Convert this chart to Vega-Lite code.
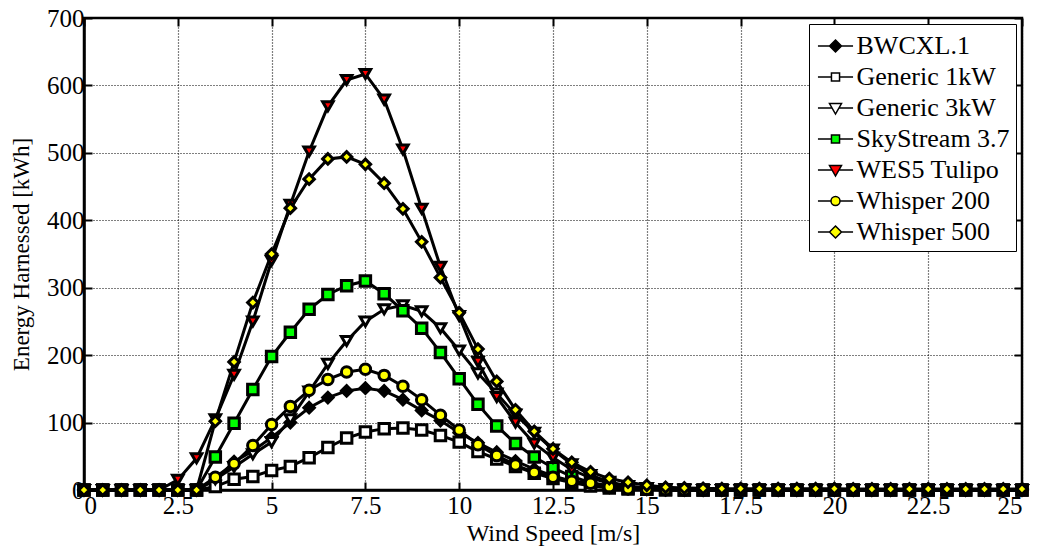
{
  "$schema": "https://vega.github.io/schema/vega-lite/v6.json",
  "width": 938,
  "height": 472,
  "autosize": {"type": "none"},
  "padding": {"left": 84, "top": 18, "right": 17, "bottom": 57},
  "background": "white",
  "config": {
    "font": "Liberation Serif",
    "view": {"stroke": "black", "strokeWidth": 2.5},
    "axis": {
      "labelFont": "Liberation Serif",
      "titleFont": "Liberation Serif",
      "labelColor": "black",
      "titleColor": "black",
      "titleFontWeight": "normal",
      "labelFontSize": 25,
      "titleFontSize": 24,
      "domainColor": "black",
      "domainWidth": 2.5,
      "tickColor": "black",
      "tickWidth": 2,
      "tickSize": -8,
      "gridColor": "black",
      "gridDash": [1, 2],
      "gridWidth": 1.2,
      "gridOpacity": 1
    },
    "legend": {
      "title": null,
      "orient": "top-right",
      "offset": 6,
      "padding": 6,
      "fillColor": "white",
      "strokeColor": "black",
      "labelFont": "Liberation Serif",
      "labelFontSize": 26,
      "labelColor": "black",
      "labelOffset": 5,
      "labelLimit": 300,
      "symbolSize": 900,
      "symbolOpacity": 1,
      "rowPadding": 2,
      "symbolOffset": 4.5
    }
  },
  "data": {
    "values": [
      {"series": "BWCXL.1", "speed": 0, "energy": 0},
      {"series": "BWCXL.1", "speed": 0.5, "energy": 0},
      {"series": "BWCXL.1", "speed": 1, "energy": 0},
      {"series": "BWCXL.1", "speed": 1.5, "energy": 0},
      {"series": "BWCXL.1", "speed": 2, "energy": 0},
      {"series": "BWCXL.1", "speed": 2.5, "energy": 0},
      {"series": "BWCXL.1", "speed": 3, "energy": 0},
      {"series": "BWCXL.1", "speed": 3.5, "energy": 15},
      {"series": "BWCXL.1", "speed": 4, "energy": 42},
      {"series": "BWCXL.1", "speed": 4.5, "energy": 58},
      {"series": "BWCXL.1", "speed": 5, "energy": 78},
      {"series": "BWCXL.1", "speed": 5.5, "energy": 100},
      {"series": "BWCXL.1", "speed": 6, "energy": 122},
      {"series": "BWCXL.1", "speed": 6.5, "energy": 137},
      {"series": "BWCXL.1", "speed": 7, "energy": 147},
      {"series": "BWCXL.1", "speed": 7.5, "energy": 151},
      {"series": "BWCXL.1", "speed": 8, "energy": 147},
      {"series": "BWCXL.1", "speed": 8.5, "energy": 134},
      {"series": "BWCXL.1", "speed": 9, "energy": 118},
      {"series": "BWCXL.1", "speed": 9.5, "energy": 103},
      {"series": "BWCXL.1", "speed": 10, "energy": 85},
      {"series": "BWCXL.1", "speed": 10.5, "energy": 70},
      {"series": "BWCXL.1", "speed": 11, "energy": 56},
      {"series": "BWCXL.1", "speed": 11.5, "energy": 43},
      {"series": "BWCXL.1", "speed": 12, "energy": 31},
      {"series": "BWCXL.1", "speed": 12.5, "energy": 21},
      {"series": "BWCXL.1", "speed": 13, "energy": 13},
      {"series": "BWCXL.1", "speed": 13.5, "energy": 8},
      {"series": "BWCXL.1", "speed": 14, "energy": 4},
      {"series": "BWCXL.1", "speed": 14.5, "energy": 2},
      {"series": "BWCXL.1", "speed": 15, "energy": 1},
      {"series": "BWCXL.1", "speed": 15.5, "energy": 0},
      {"series": "BWCXL.1", "speed": 16, "energy": 0},
      {"series": "BWCXL.1", "speed": 16.5, "energy": 0},
      {"series": "BWCXL.1", "speed": 17, "energy": 0},
      {"series": "BWCXL.1", "speed": 17.5, "energy": 0},
      {"series": "BWCXL.1", "speed": 18, "energy": 0},
      {"series": "BWCXL.1", "speed": 18.5, "energy": 0},
      {"series": "BWCXL.1", "speed": 19, "energy": 0},
      {"series": "BWCXL.1", "speed": 19.5, "energy": 0},
      {"series": "BWCXL.1", "speed": 20, "energy": 0},
      {"series": "BWCXL.1", "speed": 20.5, "energy": 0},
      {"series": "BWCXL.1", "speed": 21, "energy": 0},
      {"series": "BWCXL.1", "speed": 21.5, "energy": 0},
      {"series": "BWCXL.1", "speed": 22, "energy": 0},
      {"series": "BWCXL.1", "speed": 22.5, "energy": 0},
      {"series": "BWCXL.1", "speed": 23, "energy": 0},
      {"series": "BWCXL.1", "speed": 23.5, "energy": 0},
      {"series": "BWCXL.1", "speed": 24, "energy": 0},
      {"series": "BWCXL.1", "speed": 24.5, "energy": 0},
      {"series": "BWCXL.1", "speed": 25, "energy": 0},

      {"series": "Generic 1kW", "speed": 0, "energy": 0},
      {"series": "Generic 1kW", "speed": 0.5, "energy": 0},
      {"series": "Generic 1kW", "speed": 1, "energy": 0},
      {"series": "Generic 1kW", "speed": 1.5, "energy": 0},
      {"series": "Generic 1kW", "speed": 2, "energy": 0},
      {"series": "Generic 1kW", "speed": 2.5, "energy": 0},
      {"series": "Generic 1kW", "speed": 3, "energy": 0},
      {"series": "Generic 1kW", "speed": 3.5, "energy": 5},
      {"series": "Generic 1kW", "speed": 4, "energy": 16},
      {"series": "Generic 1kW", "speed": 4.5, "energy": 20},
      {"series": "Generic 1kW", "speed": 5, "energy": 29},
      {"series": "Generic 1kW", "speed": 5.5, "energy": 35},
      {"series": "Generic 1kW", "speed": 6, "energy": 48},
      {"series": "Generic 1kW", "speed": 6.5, "energy": 63},
      {"series": "Generic 1kW", "speed": 7, "energy": 77},
      {"series": "Generic 1kW", "speed": 7.5, "energy": 86},
      {"series": "Generic 1kW", "speed": 8, "energy": 91},
      {"series": "Generic 1kW", "speed": 8.5, "energy": 92},
      {"series": "Generic 1kW", "speed": 9, "energy": 89},
      {"series": "Generic 1kW", "speed": 9.5, "energy": 81},
      {"series": "Generic 1kW", "speed": 10, "energy": 71},
      {"series": "Generic 1kW", "speed": 10.5, "energy": 57},
      {"series": "Generic 1kW", "speed": 11, "energy": 46},
      {"series": "Generic 1kW", "speed": 11.5, "energy": 35},
      {"series": "Generic 1kW", "speed": 12, "energy": 25},
      {"series": "Generic 1kW", "speed": 12.5, "energy": 17},
      {"series": "Generic 1kW", "speed": 13, "energy": 11},
      {"series": "Generic 1kW", "speed": 13.5, "energy": 6},
      {"series": "Generic 1kW", "speed": 14, "energy": 3},
      {"series": "Generic 1kW", "speed": 14.5, "energy": 1.5},
      {"series": "Generic 1kW", "speed": 15, "energy": 1},
      {"series": "Generic 1kW", "speed": 15.5, "energy": 0.5},
      {"series": "Generic 1kW", "speed": 16, "energy": 0},
      {"series": "Generic 1kW", "speed": 16.5, "energy": 0},
      {"series": "Generic 1kW", "speed": 17, "energy": 0},
      {"series": "Generic 1kW", "speed": 17.5, "energy": 0},
      {"series": "Generic 1kW", "speed": 18, "energy": 0},
      {"series": "Generic 1kW", "speed": 18.5, "energy": 0},
      {"series": "Generic 1kW", "speed": 19, "energy": 0},
      {"series": "Generic 1kW", "speed": 19.5, "energy": 0},
      {"series": "Generic 1kW", "speed": 20, "energy": 0},
      {"series": "Generic 1kW", "speed": 20.5, "energy": 0},
      {"series": "Generic 1kW", "speed": 21, "energy": 0},
      {"series": "Generic 1kW", "speed": 21.5, "energy": 0},
      {"series": "Generic 1kW", "speed": 22, "energy": 0},
      {"series": "Generic 1kW", "speed": 22.5, "energy": 0},
      {"series": "Generic 1kW", "speed": 23, "energy": 0},
      {"series": "Generic 1kW", "speed": 23.5, "energy": 0},
      {"series": "Generic 1kW", "speed": 24, "energy": 0},
      {"series": "Generic 1kW", "speed": 24.5, "energy": 0},
      {"series": "Generic 1kW", "speed": 25, "energy": 0},

      {"series": "Generic 3kW", "speed": 0, "energy": 0},
      {"series": "Generic 3kW", "speed": 0.5, "energy": 0},
      {"series": "Generic 3kW", "speed": 1, "energy": 0},
      {"series": "Generic 3kW", "speed": 1.5, "energy": 0},
      {"series": "Generic 3kW", "speed": 2, "energy": 0},
      {"series": "Generic 3kW", "speed": 2.5, "energy": 0},
      {"series": "Generic 3kW", "speed": 3, "energy": 0},
      {"series": "Generic 3kW", "speed": 3.5, "energy": 16},
      {"series": "Generic 3kW", "speed": 4, "energy": 34},
      {"series": "Generic 3kW", "speed": 4.5, "energy": 53},
      {"series": "Generic 3kW", "speed": 5, "energy": 71},
      {"series": "Generic 3kW", "speed": 5.5, "energy": 105},
      {"series": "Generic 3kW", "speed": 6, "energy": 146},
      {"series": "Generic 3kW", "speed": 6.5, "energy": 187},
      {"series": "Generic 3kW", "speed": 7, "energy": 221},
      {"series": "Generic 3kW", "speed": 7.5, "energy": 250},
      {"series": "Generic 3kW", "speed": 8, "energy": 268},
      {"series": "Generic 3kW", "speed": 8.5, "energy": 274},
      {"series": "Generic 3kW", "speed": 9, "energy": 265},
      {"series": "Generic 3kW", "speed": 9.5, "energy": 240},
      {"series": "Generic 3kW", "speed": 10, "energy": 207},
      {"series": "Generic 3kW", "speed": 10.5, "energy": 173},
      {"series": "Generic 3kW", "speed": 11, "energy": 143},
      {"series": "Generic 3kW", "speed": 11.5, "energy": 112},
      {"series": "Generic 3kW", "speed": 12, "energy": 85},
      {"series": "Generic 3kW", "speed": 12.5, "energy": 60},
      {"series": "Generic 3kW", "speed": 13, "energy": 38},
      {"series": "Generic 3kW", "speed": 13.5, "energy": 22},
      {"series": "Generic 3kW", "speed": 14, "energy": 12},
      {"series": "Generic 3kW", "speed": 14.5, "energy": 6},
      {"series": "Generic 3kW", "speed": 15, "energy": 3},
      {"series": "Generic 3kW", "speed": 15.5, "energy": 1},
      {"series": "Generic 3kW", "speed": 16, "energy": 0},
      {"series": "Generic 3kW", "speed": 16.5, "energy": 0},
      {"series": "Generic 3kW", "speed": 17, "energy": 0},
      {"series": "Generic 3kW", "speed": 17.5, "energy": 0},
      {"series": "Generic 3kW", "speed": 18, "energy": 0},
      {"series": "Generic 3kW", "speed": 18.5, "energy": 0},
      {"series": "Generic 3kW", "speed": 19, "energy": 0},
      {"series": "Generic 3kW", "speed": 19.5, "energy": 0},
      {"series": "Generic 3kW", "speed": 20, "energy": 0},
      {"series": "Generic 3kW", "speed": 20.5, "energy": 0},
      {"series": "Generic 3kW", "speed": 21, "energy": 0},
      {"series": "Generic 3kW", "speed": 21.5, "energy": 0},
      {"series": "Generic 3kW", "speed": 22, "energy": 0},
      {"series": "Generic 3kW", "speed": 22.5, "energy": 0},
      {"series": "Generic 3kW", "speed": 23, "energy": 0},
      {"series": "Generic 3kW", "speed": 23.5, "energy": 0},
      {"series": "Generic 3kW", "speed": 24, "energy": 0},
      {"series": "Generic 3kW", "speed": 24.5, "energy": 0},
      {"series": "Generic 3kW", "speed": 25, "energy": 0},

      {"series": "SkyStream 3.7", "speed": 0, "energy": 0},
      {"series": "SkyStream 3.7", "speed": 0.5, "energy": 0},
      {"series": "SkyStream 3.7", "speed": 1, "energy": 0},
      {"series": "SkyStream 3.7", "speed": 1.5, "energy": 0},
      {"series": "SkyStream 3.7", "speed": 2, "energy": 0},
      {"series": "SkyStream 3.7", "speed": 2.5, "energy": 0},
      {"series": "SkyStream 3.7", "speed": 3, "energy": 0},
      {"series": "SkyStream 3.7", "speed": 3.5, "energy": 49},
      {"series": "SkyStream 3.7", "speed": 4, "energy": 99},
      {"series": "SkyStream 3.7", "speed": 4.5, "energy": 149},
      {"series": "SkyStream 3.7", "speed": 5, "energy": 198},
      {"series": "SkyStream 3.7", "speed": 5.5, "energy": 234},
      {"series": "SkyStream 3.7", "speed": 6, "energy": 268},
      {"series": "SkyStream 3.7", "speed": 6.5, "energy": 290},
      {"series": "SkyStream 3.7", "speed": 7, "energy": 303},
      {"series": "SkyStream 3.7", "speed": 7.5, "energy": 310},
      {"series": "SkyStream 3.7", "speed": 8, "energy": 291},
      {"series": "SkyStream 3.7", "speed": 8.5, "energy": 266},
      {"series": "SkyStream 3.7", "speed": 9, "energy": 240},
      {"series": "SkyStream 3.7", "speed": 9.5, "energy": 204},
      {"series": "SkyStream 3.7", "speed": 10, "energy": 165},
      {"series": "SkyStream 3.7", "speed": 10.5, "energy": 127},
      {"series": "SkyStream 3.7", "speed": 11, "energy": 95},
      {"series": "SkyStream 3.7", "speed": 11.5, "energy": 69},
      {"series": "SkyStream 3.7", "speed": 12, "energy": 49},
      {"series": "SkyStream 3.7", "speed": 12.5, "energy": 33},
      {"series": "SkyStream 3.7", "speed": 13, "energy": 20},
      {"series": "SkyStream 3.7", "speed": 13.5, "energy": 11},
      {"series": "SkyStream 3.7", "speed": 14, "energy": 6},
      {"series": "SkyStream 3.7", "speed": 14.5, "energy": 3},
      {"series": "SkyStream 3.7", "speed": 15, "energy": 1.5},
      {"series": "SkyStream 3.7", "speed": 15.5, "energy": 0.5},
      {"series": "SkyStream 3.7", "speed": 16, "energy": 0},
      {"series": "SkyStream 3.7", "speed": 16.5, "energy": 0},
      {"series": "SkyStream 3.7", "speed": 17, "energy": 0},
      {"series": "SkyStream 3.7", "speed": 17.5, "energy": 0},
      {"series": "SkyStream 3.7", "speed": 18, "energy": 0},
      {"series": "SkyStream 3.7", "speed": 18.5, "energy": 0},
      {"series": "SkyStream 3.7", "speed": 19, "energy": 0},
      {"series": "SkyStream 3.7", "speed": 19.5, "energy": 0},
      {"series": "SkyStream 3.7", "speed": 20, "energy": 0},
      {"series": "SkyStream 3.7", "speed": 20.5, "energy": 0},
      {"series": "SkyStream 3.7", "speed": 21, "energy": 0},
      {"series": "SkyStream 3.7", "speed": 21.5, "energy": 0},
      {"series": "SkyStream 3.7", "speed": 22, "energy": 0},
      {"series": "SkyStream 3.7", "speed": 22.5, "energy": 0},
      {"series": "SkyStream 3.7", "speed": 23, "energy": 0},
      {"series": "SkyStream 3.7", "speed": 23.5, "energy": 0},
      {"series": "SkyStream 3.7", "speed": 24, "energy": 0},
      {"series": "SkyStream 3.7", "speed": 24.5, "energy": 0},
      {"series": "SkyStream 3.7", "speed": 25, "energy": 0},

      {"series": "WES5 Tulipo", "speed": 0, "energy": 0},
      {"series": "WES5 Tulipo", "speed": 0.5, "energy": 0},
      {"series": "WES5 Tulipo", "speed": 1, "energy": 0},
      {"series": "WES5 Tulipo", "speed": 1.5, "energy": 0},
      {"series": "WES5 Tulipo", "speed": 2, "energy": 0},
      {"series": "WES5 Tulipo", "speed": 2.5, "energy": 15},
      {"series": "WES5 Tulipo", "speed": 3, "energy": 47},
      {"series": "WES5 Tulipo", "speed": 3.5, "energy": 105},
      {"series": "WES5 Tulipo", "speed": 4, "energy": 171},
      {"series": "WES5 Tulipo", "speed": 4.5, "energy": 250},
      {"series": "WES5 Tulipo", "speed": 5, "energy": 340},
      {"series": "WES5 Tulipo", "speed": 5.5, "energy": 423},
      {"series": "WES5 Tulipo", "speed": 6, "energy": 502},
      {"series": "WES5 Tulipo", "speed": 6.5, "energy": 569},
      {"series": "WES5 Tulipo", "speed": 7, "energy": 608},
      {"series": "WES5 Tulipo", "speed": 7.5, "energy": 617},
      {"series": "WES5 Tulipo", "speed": 8, "energy": 579},
      {"series": "WES5 Tulipo", "speed": 8.5, "energy": 505},
      {"series": "WES5 Tulipo", "speed": 9, "energy": 417},
      {"series": "WES5 Tulipo", "speed": 9.5, "energy": 331},
      {"series": "WES5 Tulipo", "speed": 10, "energy": 258},
      {"series": "WES5 Tulipo", "speed": 10.5, "energy": 190},
      {"series": "WES5 Tulipo", "speed": 11, "energy": 138},
      {"series": "WES5 Tulipo", "speed": 11.5, "energy": 100},
      {"series": "WES5 Tulipo", "speed": 12, "energy": 69},
      {"series": "WES5 Tulipo", "speed": 12.5, "energy": 48},
      {"series": "WES5 Tulipo", "speed": 13, "energy": 30},
      {"series": "WES5 Tulipo", "speed": 13.5, "energy": 18},
      {"series": "WES5 Tulipo", "speed": 14, "energy": 10},
      {"series": "WES5 Tulipo", "speed": 14.5, "energy": 5},
      {"series": "WES5 Tulipo", "speed": 15, "energy": 3},
      {"series": "WES5 Tulipo", "speed": 15.5, "energy": 1.5},
      {"series": "WES5 Tulipo", "speed": 16, "energy": 1},
      {"series": "WES5 Tulipo", "speed": 16.5, "energy": 0},
      {"series": "WES5 Tulipo", "speed": 17, "energy": 0},
      {"series": "WES5 Tulipo", "speed": 17.5, "energy": 0},
      {"series": "WES5 Tulipo", "speed": 18, "energy": 0},
      {"series": "WES5 Tulipo", "speed": 18.5, "energy": 0},
      {"series": "WES5 Tulipo", "speed": 19, "energy": 0},
      {"series": "WES5 Tulipo", "speed": 19.5, "energy": 0},
      {"series": "WES5 Tulipo", "speed": 20, "energy": 0},
      {"series": "WES5 Tulipo", "speed": 20.5, "energy": 0},
      {"series": "WES5 Tulipo", "speed": 21, "energy": 0},
      {"series": "WES5 Tulipo", "speed": 21.5, "energy": 0},
      {"series": "WES5 Tulipo", "speed": 22, "energy": 0},
      {"series": "WES5 Tulipo", "speed": 22.5, "energy": 0},
      {"series": "WES5 Tulipo", "speed": 23, "energy": 0},
      {"series": "WES5 Tulipo", "speed": 23.5, "energy": 0},
      {"series": "WES5 Tulipo", "speed": 24, "energy": 0},
      {"series": "WES5 Tulipo", "speed": 24.5, "energy": 0},
      {"series": "WES5 Tulipo", "speed": 25, "energy": 0},

      {"series": "Whisper 200", "speed": 0, "energy": 0},
      {"series": "Whisper 200", "speed": 0.5, "energy": 0},
      {"series": "Whisper 200", "speed": 1, "energy": 0},
      {"series": "Whisper 200", "speed": 1.5, "energy": 0},
      {"series": "Whisper 200", "speed": 2, "energy": 0},
      {"series": "Whisper 200", "speed": 2.5, "energy": 0},
      {"series": "Whisper 200", "speed": 3, "energy": 0},
      {"series": "Whisper 200", "speed": 3.5, "energy": 19},
      {"series": "Whisper 200", "speed": 4, "energy": 39},
      {"series": "Whisper 200", "speed": 4.5, "energy": 66},
      {"series": "Whisper 200", "speed": 5, "energy": 97},
      {"series": "Whisper 200", "speed": 5.5, "energy": 124},
      {"series": "Whisper 200", "speed": 6, "energy": 148},
      {"series": "Whisper 200", "speed": 6.5, "energy": 164},
      {"series": "Whisper 200", "speed": 7, "energy": 175},
      {"series": "Whisper 200", "speed": 7.5, "energy": 179},
      {"series": "Whisper 200", "speed": 8, "energy": 170},
      {"series": "Whisper 200", "speed": 8.5, "energy": 154},
      {"series": "Whisper 200", "speed": 9, "energy": 134},
      {"series": "Whisper 200", "speed": 9.5, "energy": 111},
      {"series": "Whisper 200", "speed": 10, "energy": 89},
      {"series": "Whisper 200", "speed": 10.5, "energy": 67},
      {"series": "Whisper 200", "speed": 11, "energy": 51},
      {"series": "Whisper 200", "speed": 11.5, "energy": 37},
      {"series": "Whisper 200", "speed": 12, "energy": 26},
      {"series": "Whisper 200", "speed": 12.5, "energy": 19},
      {"series": "Whisper 200", "speed": 13, "energy": 13},
      {"series": "Whisper 200", "speed": 13.5, "energy": 10},
      {"series": "Whisper 200", "speed": 14, "energy": 5},
      {"series": "Whisper 200", "speed": 14.5, "energy": 2},
      {"series": "Whisper 200", "speed": 15, "energy": 1},
      {"series": "Whisper 200", "speed": 15.5, "energy": 0.5},
      {"series": "Whisper 200", "speed": 16, "energy": 0},
      {"series": "Whisper 200", "speed": 16.5, "energy": 0},
      {"series": "Whisper 200", "speed": 17, "energy": 0},
      {"series": "Whisper 200", "speed": 17.5, "energy": 0},
      {"series": "Whisper 200", "speed": 18, "energy": 0},
      {"series": "Whisper 200", "speed": 18.5, "energy": 0},
      {"series": "Whisper 200", "speed": 19, "energy": 0},
      {"series": "Whisper 200", "speed": 19.5, "energy": 0},
      {"series": "Whisper 200", "speed": 20, "energy": 0},
      {"series": "Whisper 200", "speed": 20.5, "energy": 0},
      {"series": "Whisper 200", "speed": 21, "energy": 0},
      {"series": "Whisper 200", "speed": 21.5, "energy": 0},
      {"series": "Whisper 200", "speed": 22, "energy": 0},
      {"series": "Whisper 200", "speed": 22.5, "energy": 0},
      {"series": "Whisper 200", "speed": 23, "energy": 0},
      {"series": "Whisper 200", "speed": 23.5, "energy": 0},
      {"series": "Whisper 200", "speed": 24, "energy": 0},
      {"series": "Whisper 200", "speed": 24.5, "energy": 0},
      {"series": "Whisper 200", "speed": 25, "energy": 0},

      {"series": "Whisper 500", "speed": 0, "energy": 0},
      {"series": "Whisper 500", "speed": 0.5, "energy": 0},
      {"series": "Whisper 500", "speed": 1, "energy": 0},
      {"series": "Whisper 500", "speed": 1.5, "energy": 0},
      {"series": "Whisper 500", "speed": 2, "energy": 0},
      {"series": "Whisper 500", "speed": 2.5, "energy": 0},
      {"series": "Whisper 500", "speed": 3, "energy": 0},
      {"series": "Whisper 500", "speed": 3.5, "energy": 102},
      {"series": "Whisper 500", "speed": 4, "energy": 190},
      {"series": "Whisper 500", "speed": 4.5, "energy": 278},
      {"series": "Whisper 500", "speed": 5, "energy": 350},
      {"series": "Whisper 500", "speed": 5.5, "energy": 418},
      {"series": "Whisper 500", "speed": 6, "energy": 461},
      {"series": "Whisper 500", "speed": 6.5, "energy": 491},
      {"series": "Whisper 500", "speed": 7, "energy": 494},
      {"series": "Whisper 500", "speed": 7.5, "energy": 483},
      {"series": "Whisper 500", "speed": 8, "energy": 455},
      {"series": "Whisper 500", "speed": 8.5, "energy": 417},
      {"series": "Whisper 500", "speed": 9, "energy": 368},
      {"series": "Whisper 500", "speed": 9.5, "energy": 315},
      {"series": "Whisper 500", "speed": 10, "energy": 263},
      {"series": "Whisper 500", "speed": 10.5, "energy": 209},
      {"series": "Whisper 500", "speed": 11, "energy": 161},
      {"series": "Whisper 500", "speed": 11.5, "energy": 119},
      {"series": "Whisper 500", "speed": 12, "energy": 87},
      {"series": "Whisper 500", "speed": 12.5, "energy": 61},
      {"series": "Whisper 500", "speed": 13, "energy": 41},
      {"series": "Whisper 500", "speed": 13.5, "energy": 27},
      {"series": "Whisper 500", "speed": 14, "energy": 17},
      {"series": "Whisper 500", "speed": 14.5, "energy": 11.5},
      {"series": "Whisper 500", "speed": 15, "energy": 7},
      {"series": "Whisper 500", "speed": 15.5, "energy": 4},
      {"series": "Whisper 500", "speed": 16, "energy": 3},
      {"series": "Whisper 500", "speed": 16.5, "energy": 2.5},
      {"series": "Whisper 500", "speed": 17, "energy": 2},
      {"series": "Whisper 500", "speed": 17.5, "energy": 2},
      {"series": "Whisper 500", "speed": 18, "energy": 2},
      {"series": "Whisper 500", "speed": 18.5, "energy": 2},
      {"series": "Whisper 500", "speed": 19, "energy": 2},
      {"series": "Whisper 500", "speed": 19.5, "energy": 2},
      {"series": "Whisper 500", "speed": 20, "energy": 2},
      {"series": "Whisper 500", "speed": 20.5, "energy": 1.5},
      {"series": "Whisper 500", "speed": 21, "energy": 1.5},
      {"series": "Whisper 500", "speed": 21.5, "energy": 1.5},
      {"series": "Whisper 500", "speed": 22, "energy": 1.5},
      {"series": "Whisper 500", "speed": 22.5, "energy": 1.5},
      {"series": "Whisper 500", "speed": 23, "energy": 1.5},
      {"series": "Whisper 500", "speed": 23.5, "energy": 1.5},
      {"series": "Whisper 500", "speed": 24, "energy": 1.5},
      {"series": "Whisper 500", "speed": 24.5, "energy": 1.5},
      {"series": "Whisper 500", "speed": 25, "energy": 1.5}
    ]
  },
  "resolve": {
    "axis": {"x": "independent", "y": "independent"},
    "scale": {"shape": "independent", "fill": "independent"}
  },
  "layer": [
    {
      "mark": {"type": "line", "color": "black", "strokeWidth": 3, "strokeJoin": "miter"},
      "encoding": {
        "x": {
          "field": "speed", "type": "quantitative",
          "scale": {"domain": [0, 25], "nice": false},
          "axis": {"orient": "top", "values": [0, 2.5, 5, 7.5, 10, 12.5, 15, 17.5, 20, 22.5, 25], "labels": false, "grid": false, "title": null, "domain": false}
        },
        "y": {
          "field": "energy", "type": "quantitative",
          "scale": {"domain": [0, 700], "nice": false},
          "axis": {"orient": "right", "values": [0, 100, 200, 300, 400, 500, 600, 700], "labels": false, "grid": false, "title": null, "domain": false}
        },
        "detail": {"field": "series"}
      }
    },
    {
      "mark": {"type": "point", "filled": true, "stroke": "black", "strokeWidth": 3, "size": 110, "opacity": 1},
      "encoding": {
        "x": {
          "field": "speed", "type": "quantitative",
          "axis": {"orient": "bottom", "values": [0, 2.5, 5, 7.5, 10, 12.5, 15, 17.5, 20, 22.5, 25], "labelExpr": "datum.value + ''", "grid": true, "title": "Wind Speed [m/s]", "titleFontSize": 24, "labelPadding": 11, "titlePadding": 3}
        },
        "y": {
          "field": "energy", "type": "quantitative",
          "axis": {"orient": "left", "values": [0, 100, 200, 300, 400, 500, 600, 700], "grid": true, "title": "Energy Harnessed [kWh]", "titleFontSize": 23, "labelPadding": 8, "titlePadding": 13}
        },
        "shape": {
          "field": "series", "type": "nominal",
          "scale": {
            "domain": ["BWCXL.1", "Generic 1kW", "Generic 3kW", "SkyStream 3.7", "WES5 Tulipo", "Whisper 200", "Whisper 500"],
            "range": ["diamond", "square", "triangle-down", "square", "triangle-down", "circle", "diamond"]
          },
          "legend": null
        },
        "fill": {
          "field": "series", "type": "nominal",
          "scale": {
            "domain": ["BWCXL.1", "Generic 1kW", "Generic 3kW", "SkyStream 3.7", "WES5 Tulipo", "Whisper 200", "Whisper 500"],
            "range": ["#000000", "#ffffff", "#ffffff", "#00ff00", "#ff0000", "#ffff00", "#ffff00"]
          },
          "legend": null
        }
      }
    },
    {
      "mark": {"type": "point", "filled": true, "stroke": "black", "strokeWidth": 2.5, "size": 0, "opacity": 0},
      "encoding": {
        "x": {"field": "speed", "type": "quantitative", "axis": null},
        "y": {"field": "energy", "type": "quantitative", "axis": null},
        "shape": {
          "field": "series", "type": "nominal",
          "scale": {
            "domain": ["BWCXL.1", "Generic 1kW", "Generic 3kW", "SkyStream 3.7", "WES5 Tulipo", "Whisper 200", "Whisper 500"],
            "range": [
              "M-1.17,0H-0.4M0.4,0H1.17M0,-0.4L0.4,0L0,0.4L-0.4,0Z",
              "M-1.17,0H-0.27M0.27,0H1.17M-0.27,-0.27H0.27V0.27H-0.27Z",
              "M-1.17,0H-0.23M0.23,0H1.17M-0.4,-0.3H0.4L0,0.4Z",
              "M-1.17,0H-0.27M0.27,0H1.17M-0.27,-0.27H0.27V0.27H-0.27Z",
              "M-1.17,0H-0.23M0.23,0H1.17M-0.4,-0.3H0.4L0,0.4Z",
              "M-1.17,0H-0.3M0.3,0H1.17M0.3,0A0.3,0.3,0,1,1,-0.3,0A0.3,0.3,0,1,1,0.3,0Z",
              "M-1.17,0H-0.4M0.4,0H1.17M0,-0.4L0.4,0L0,0.4L-0.4,0Z"
            ]
          },
          "legend": {"encode": {"legend": {"strokeWidth": {"value": 2.5}}}}
        },
        "fill": {
          "field": "series", "type": "nominal",
          "scale": {
            "domain": ["BWCXL.1", "Generic 1kW", "Generic 3kW", "SkyStream 3.7", "WES5 Tulipo", "Whisper 200", "Whisper 500"],
            "range": ["#000000", "#ffffff", "#ffffff", "#00ff00", "#ff0000", "#ffff00", "#ffff00"]
          },
          "legend": {"encode": {"legend": {"strokeWidth": {"value": 2.5}}}}
        }
      }
    }
  ]
}
